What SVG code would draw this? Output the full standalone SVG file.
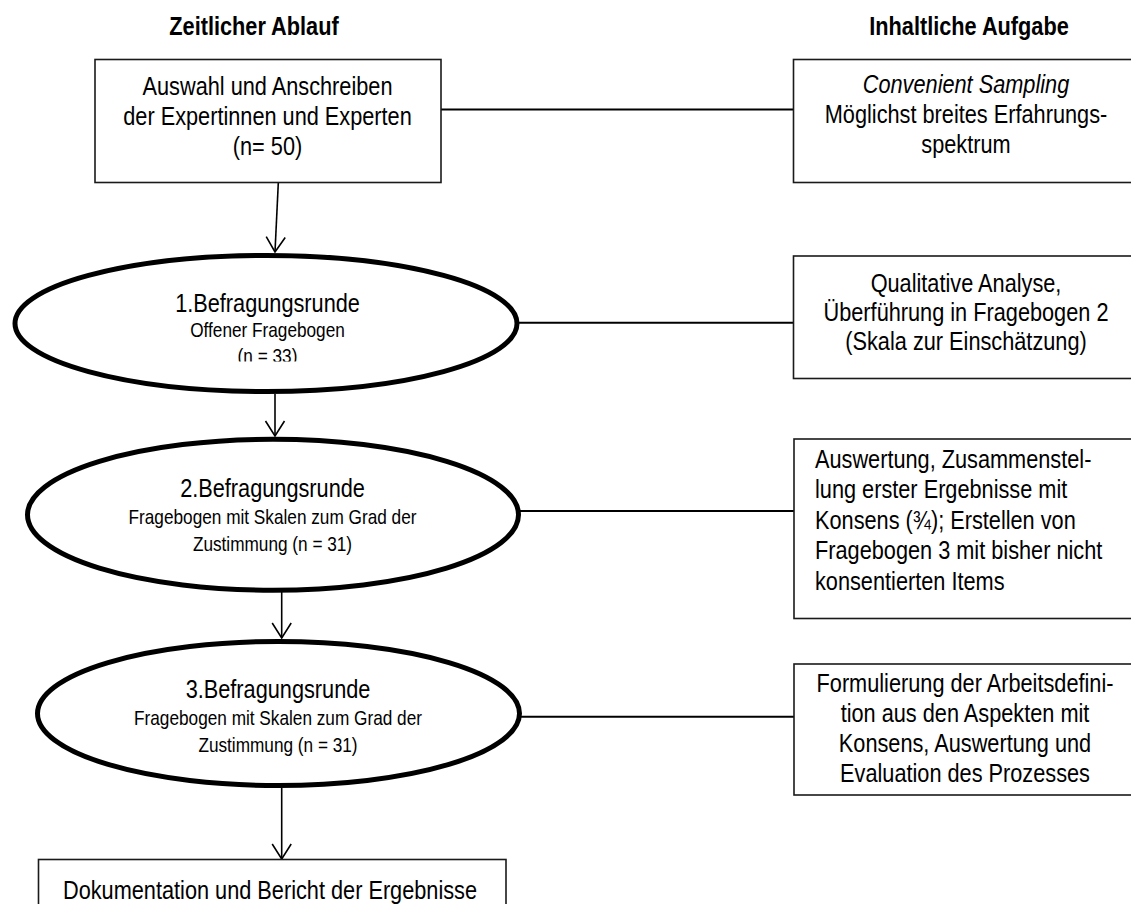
<svg xmlns="http://www.w3.org/2000/svg" width="1131" height="904" viewBox="0 0 1131 904">
  <style>
    text { font-family: "Liberation Sans", Arial, sans-serif; fill: #000; }
    .h { font-size: 26.5px; font-weight: bold; text-anchor: middle; }
    .t { font-size: 26.5px; text-anchor: middle; }
    .tl { font-size: 26.5px; text-anchor: start; }
    .s { font-size: 21px; text-anchor: middle; }
    .box { fill: #fff; stroke: #1a1a1a; stroke-width: 1.6; }
    .ell { fill: #fff; stroke: #000; stroke-width: 5; }
    .link { stroke: #000; stroke-width: 2; fill: none; }
    .arrow { stroke: #000; stroke-width: 1.6; fill: none; marker-end: url(#vhead); }
  </style>
  <defs>
    <marker id="vhead" markerUnits="userSpaceOnUse" markerWidth="20" markerHeight="20" refX="0" refY="0" orient="auto" overflow="visible">
      <path d="M-15,-9.5 L0,0 L-15,9.5" fill="none" stroke="#000" stroke-width="1.6"/>
    </marker>
    <clipPath id="clipE1">
      <rect x="-400" y="0" width="800" height="361.5"/>
    </clipPath>
  </defs>
  <rect width="1131" height="904" fill="#fff"/>

  <g id="headers">
    <g transform="translate(254 0) scale(0.82 1)"><text class="h" x="0" y="35">Zeitlicher Ablauf</text></g>
    <g transform="translate(969 0) scale(0.82 1)"><text class="h" x="0" y="35">Inhaltliche Aufgabe</text></g>
  </g>

  <g id="connectors">
    <line class="link" x1="441" y1="109.5" x2="794" y2="109.5"/>
    <line class="link" x1="519" y1="322.7" x2="794" y2="322.7"/>
    <line class="link" x1="518" y1="511" x2="794" y2="511"/>
    <line class="link" x1="519" y1="716.7" x2="794" y2="716.7"/>
    <path class="arrow" d="M278.3,183 L275,252"/>
    <path class="arrow" d="M275,394 L275,436"/>
    <path class="arrow" d="M281.7,592 L281.7,638"/>
    <path class="arrow" d="M281.7,788 L281.7,859"/>
  </g>

  <g id="n-auswahl">
    <rect class="box" x="95" y="59.5" width="346" height="123"/>
    <g transform="translate(267.5 0) scale(0.82 1)">
      <text class="t" x="0" y="95">Auswahl und Anschreiben</text>
      <text class="t" x="0" y="125">der Expertinnen und Experten</text>
      <text class="t" x="0" y="155.5">(n= 50)</text>
    </g>
  </g>

  <g id="n-runde1">
    <ellipse class="ell" cx="266" cy="323.5" rx="251" ry="68"/>
    <g transform="translate(267.5 0) scale(0.82 1)">
      <text class="t" x="0" y="312">1.Befragungsrunde</text>
      <text class="s" x="0" y="337">Offener Fragebogen</text>
      <text class="s" x="0" y="363" clip-path="url(#clipE1)">(n = 33)</text>
    </g>
  </g>

  <g id="n-runde2">
    <ellipse class="ell" cx="273" cy="514.7" rx="245.5" ry="75.5"/>
    <g transform="translate(272.5 0) scale(0.82 1)">
      <text class="t" x="0" y="497.3">2.Befragungsrunde</text>
      <text class="s" x="0" y="524">Fragebogen mit Skalen zum Grad der</text>
      <text class="s" x="0" y="550.7">Zustimmung (n = 31)</text>
    </g>
  </g>

  <g id="n-runde3">
    <ellipse class="ell" cx="278.5" cy="713.5" rx="241" ry="72"/>
    <g transform="translate(278 0) scale(0.82 1)">
      <text class="t" x="0" y="698.3">3.Befragungsrunde</text>
      <text class="s" x="0" y="725">Fragebogen mit Skalen zum Grad der</text>
      <text class="s" x="0" y="751.7">Zustimmung (n = 31)</text>
    </g>
  </g>

  <g id="n-doku">
    <rect class="box" x="38.5" y="859.5" width="467.5" height="60"/>
    <g transform="translate(270 0) scale(0.82 1)">
      <text class="t" x="0" y="899">Dokumentation und Bericht der Ergebnisse</text>
    </g>
  </g>

  <g id="n-sampling">
    <rect class="box" x="793.5" y="59.5" width="346" height="123"/>
    <g transform="translate(966 0) scale(0.82 1)">
      <text class="t" x="0" y="93.3" font-style="italic">Convenient Sampling</text>
      <text class="t" x="0" y="123.3">Möglichst breites Erfahrungs-</text>
      <text class="t" x="0" y="153.5">spektrum</text>
    </g>
  </g>

  <g id="n-analyse">
    <rect class="box" x="793.5" y="256" width="346" height="122.5"/>
    <g transform="translate(966 0) scale(0.82 1)">
      <text class="t" x="0" y="291.7">Qualitative Analyse,</text>
      <text class="t" x="0" y="321">Überführung in Fragebogen 2</text>
      <text class="t" x="0" y="350.5">(Skala zur Einschätzung)</text>
    </g>
  </g>

  <g id="n-auswertung">
    <rect class="box" x="794" y="439" width="346" height="179.5"/>
    <g transform="translate(815 0) scale(0.82 1)">
      <text class="tl" x="0" y="468">Auswertung, Zusammenstel-</text>
      <text class="tl" x="0" y="498.5">lung erster Ergebnisse mit</text>
      <text class="tl" x="0" y="529">Konsens (¾); Erstellen von</text>
      <text class="tl" x="0" y="559.5">Fragebogen 3 mit bisher nicht</text>
      <text class="tl" x="0" y="590">konsentierten Items</text>
    </g>
  </g>

  <g id="n-formulierung">
    <rect class="box" x="794" y="664" width="346" height="131"/>
    <g transform="translate(965 0) scale(0.82 1)">
      <text class="t" x="0" y="692">Formulierung der Arbeitsdefini-</text>
      <text class="t" x="0" y="722">tion aus den Aspekten mit</text>
      <text class="t" x="0" y="752">Konsens, Auswertung und</text>
      <text class="t" x="0" y="782">Evaluation des Prozesses</text>
    </g>
  </g>
</svg>
